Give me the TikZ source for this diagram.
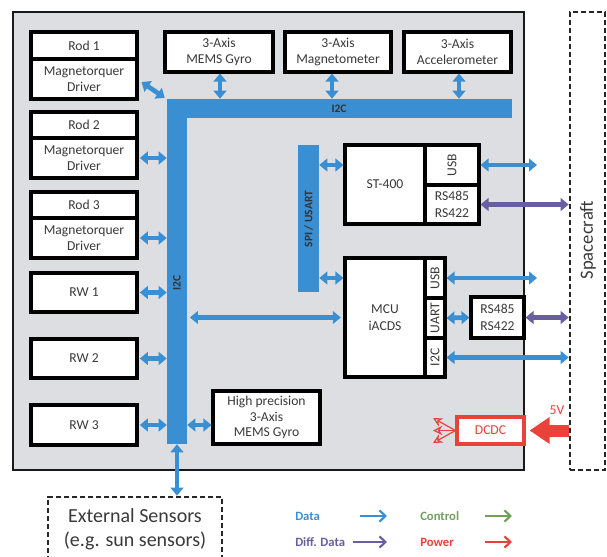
\documentclass[tikz,border=0pt]{standalone}
\usepackage{fontspec}
\setmainfont{Carlito}
\usetikzlibrary{arrows.meta,calc}
\definecolor{busblue}{RGB}{58,143,211}
\definecolor{diffpurple}{RGB}{104,94,160}
\definecolor{pwrred}{RGB}{232,66,58}
\definecolor{ctrlgreen}{RGB}{112,160,92}
\definecolor{bggray}{RGB}{221,222,226}
\definecolor{txt}{RGB}{58,58,58}
% \mybox{options}{name}{x1}{y1}{x2}{y2}{text}
\newcommand\mybox[7]{\node[#1, minimum width={(#5-#3)*0.75pt}, minimum height={(#6-#4)*0.75pt}] (#2) at ({(#3+#5)/2},{(#4+#6)/2}) {#7};}
\begin{document}
\begin{tikzpicture}[x=0.75pt,y=-0.75pt,
  box/.style={draw=black, line width=2.3pt, fill=white, inner sep=0pt, align=center, text=txt, font=\fontsize{10.2}{12.2}\selectfont},
  bus/.style={fill=busblue, draw=none, inner sep=0pt},
  buslabel/.style={font=\bfseries\fontsize{8.6}{9}\selectfont, text=black!80, inner sep=0pt},
  dat/.style={draw=busblue, line width=3.5pt, {Triangle[width=9.5pt,length=6pt]}-{Triangle[width=9.5pt,length=6pt]}},
  diff/.style={dat, draw=diffpurple},
  dashbox/.style={draw=black!85, line width=2pt, dash pattern=on 4pt off 2pt, inner sep=0pt, align=center},
  legtext/.style={font=\bfseries\fontsize{9.5}{11}\selectfont, anchor=west, inner sep=0pt},
  legarrow/.style={line width=1.6pt, -{Straight Barb[length=4.5pt,width=8.5pt]}},
  fan/.style={draw=pwrred, line width=0.9pt, -{Stealth[open,length=7pt,width=7pt]}}
]
\useasboundingbox (0,0) rectangle (607,557);

% main board
\mybox{draw=black!90, line width=1.7pt, fill=bggray, inner sep=0pt}{main}{13}{12}{524}{470}{}
% spacecraft
\mybox{dashbox}{sc}{570}{12}{605}{470}{}
\node[rotate=90, font=\fontsize{14}{16}\selectfont, text=txt] (sclabel) at (588,240) {Spacecraft};
% external sensors
\mybox{dashbox, fill=white, font=\fontsize{15}{18}\selectfont, text=txt}{ext}{48}{497}{222}{562}{External Sensors\\(e.g. sun sensors)}

% buses
\mybox{bus}{hbus}{167}{99}{512}{118}{}
\mybox{bus}{vbus}{167}{99}{187}{444}{}
\mybox{bus}{spi}{298}{145}{319}{292}{}
\node[buslabel] (i2ch) at (339,108.5) {I2C};
\node[buslabel, rotate=90] (i2cv) at (177,283) {I2C};
\node[buslabel, rotate=90] (spil) at (308.5,219) {SPI / USART};

% left column
\mybox{box}{rod1}{31}{32}{137}{59}{Rod 1}
\mybox{box}{rod1d}{31}{59}{137}{99}{Magnetorquer\\Driver}
\mybox{box}{rod2}{31}{112}{137}{138}{Rod 2}
\mybox{box}{rod2d}{31}{138}{137}{178}{Magnetorquer\\Driver}
\mybox{box}{rod3}{31}{192}{137}{218}{Rod 3}
\mybox{box}{rod3d}{31}{218}{137}{258}{Magnetorquer\\Driver}
\mybox{box}{rw1}{31}{273}{137}{312}{RW 1}
\mybox{box}{rw2}{31}{339}{137}{378}{RW 2}
\mybox{box}{rw3}{31}{405}{137}{445}{RW 3}

% top sensors
\mybox{box}{gyro}{165}{32}{273}{72}{3-Axis\\MEMS Gyro}
\mybox{box}{mag}{285}{32}{391}{72}{3-Axis\\Magnetometer}
\mybox{box}{acc}{404}{32}{511}{72}{3-Axis\\Accelerometer}
\mybox{box, font=\fontsize{10.2}{11.8}\selectfont}{hpg}{213}{391}{320}{444}{High precision\\3-Axis\\MEMS Gyro}

% ST-400
\mybox{box}{st}{345}{145}{425}{224}{ST-400}
\mybox{box}{stusb}{425}{145}{479}{185}{\rotatebox{90}{USB}}
\mybox{box}{strs}{425}{185}{479}{224}{RS485\\RS422}

% MCU
\mybox{box}{mcu}{345}{258}{425}{377}{MCU\\iACDS}
\mybox{box}{mcuusb}{425}{258}{445}{298}{\rotatebox{90}{USB}}
\mybox{box}{mcuuart}{425}{298}{445}{338}{\rotatebox{90}{UART}}
\mybox{box}{mcui2c}{425}{338}{445}{377}{\rotatebox{90}{I2C}}
\mybox{box}{rsbox}{471}{297}{524}{338}{RS485\\RS422}

% DCDC
\mybox{box, draw=pwrred, text=pwrred}{dcdc}{457}{417}{524}{444}{DCDC}
\node[text=pwrred, font=\fontsize{10.2}{12}\selectfont] (v5) at (557,410) {5V};

% data arrows to bus
\draw[dat] ([shift={(3,3)}]rod1d.east) -- ([shift={(-2,-1)}]hbus.north west);
\draw[dat] (gyro.south -| 220,0) -- (hbus.north -| 220,0);
\draw[dat] (mag.south -| 332,0) -- (hbus.north -| 332,0);
\draw[dat] (acc.south -| 459,0) -- (hbus.north -| 459,0);
\draw[dat] ([xshift=1]rod2d.east) -- (rod2d.east -| vbus.west);
\draw[dat] ([xshift=1]rod3d.east) -- (rod3d.east -| vbus.west);
\draw[dat] ([xshift=1]rw1.east) -- (rw1.east -| vbus.west);
\draw[dat] ([xshift=1]rw2.east) -- (rw2.east -| vbus.west);
\draw[dat] ([xshift=1]rw3.east) -- (rw3.east -| vbus.west);
\draw[dat] (vbus.east |- rw3.east) -- (hpg.west |- rw3.east);
\draw[dat] (vbus.south) -- (vbus.south |- ext.north);
\draw[dat] ([xshift=2]vbus.east |- mcu.west) -- ([xshift=-2]mcu.west);
\draw[dat] (spi.east |- stusb.east) -- (st.west |- stusb.east);
\draw[dat] (spi.east |- mcuusb.east) -- (mcu.west |- mcuusb.east);

% outgoing
\coordinate (stusbend) at (537,165);
\coordinate (mcuusbend) at (537,278);
\draw[dat] (stusb.east) -- (stusbend);
\draw[dat] (mcuusb.east) -- (mcuusbend);
\draw[diff] (strs.east) -- (strs.east -| sc.west);
\draw[dat] (mcuuart.east) -- (rsbox.west);
\draw[diff] (rsbox.east) -- (rsbox.east -| sc.west);
\draw[dat] (mcui2c.east) -- (mcui2c.east -| sc.west);

% power
\draw[draw=pwrred, line width=9pt, -{Triangle[width=19pt,length=15pt]}] (sc.west |- dcdc.east) -- ([xshift=3]dcdc.east);
\coordinate (fan1) at (433,418);
\coordinate (fan2) at (433,430.5);
\coordinate (fan3) at (433,443);
\draw[fan] (dcdc.west) -- (fan1);
\draw[fan] (dcdc.west) -- (fan2);
\draw[fan] (dcdc.west) -- (fan3);

% legend
\node[legtext, text=busblue] (ldata) at (295,516) {Data};
\node[legtext, text=ctrlgreen] (lctrl) at (420,516) {Control};
\node[legtext, text=diffpurple] (ldiff) at (295,542) {Diff. Data};
\node[legtext, text=pwrred] (lpow) at (420,542) {Power};
\coordinate (a1s) at (360,516); \coordinate (a1e) at (387,516);
\coordinate (a2s) at (485,516); \coordinate (a2e) at (512,516);
\coordinate (a3s) at (353,542); \coordinate (a3e) at (387,542);
\coordinate (a4s) at (485,542); \coordinate (a4e) at (512,542);
\draw[legarrow, draw=busblue] (a1s) -- (a1e);
\draw[legarrow, draw=ctrlgreen] (a2s) -- (a2e);
\draw[legarrow, draw=diffpurple] (a3s) -- (a3e);
\draw[legarrow, draw=pwrred] (a4s) -- (a4e);
\end{tikzpicture}
\end{document}
